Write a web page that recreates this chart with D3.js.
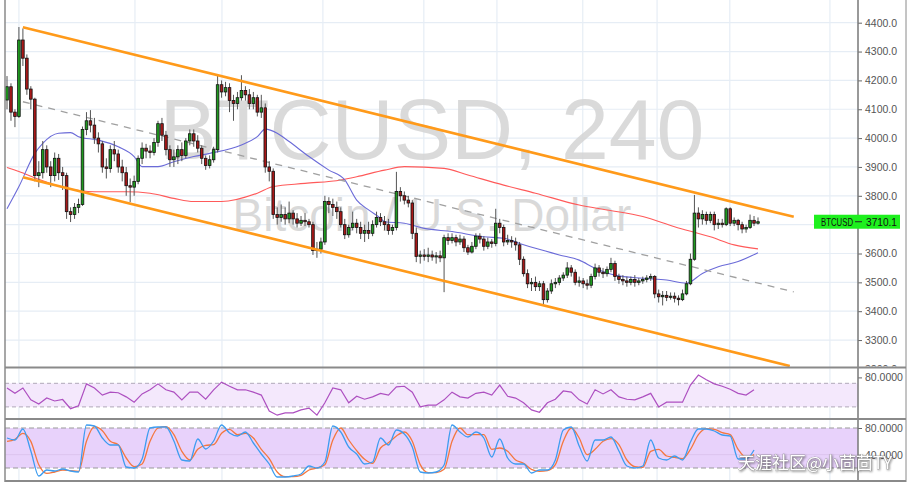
<!DOCTYPE html>
<html><head><meta charset="utf-8">
<script src="https://cdn.jsdelivr.net/npm/d3@7"></script>
<style>body{margin:0;background:#fff;}svg{display:block;font-family:"Liberation Sans",Arial,sans-serif;}</style>
</head><body><svg id="c" width="912" height="482"></svg>
<script>
// ---- data ----
const opens=[4132,4178,4090,4075,4340,4277,4170,4135,3870,3880,
3960,3900,3870,3930,3880,3870,3745,3735,3760,3770,
4030,4060,4045,4000,3980,3900,3895,3960,3945,3900,
3880,3835,3830,3850,3930,3965,3955,3950,3985,4050,
4010,3960,3925,3935,3960,3940,3990,4015,3990,3965,
3930,3905,3925,3960,4185,4160,4175,4130,4120,4140,
4165,4150,4120,4140,4090,4105,3900,3885,3735,3725,
3735,3720,3740,3720,3705,3715,3710,3700,3610,3615,
3640,3780,3770,3760,3745,3700,3665,3690,3705,3690,
3670,3680,3670,3700,3725,3710,3700,3680,3690,3815,
3800,3785,3775,3670,3590,3595,3590,3595,3588,3592,
3585,3655,3645,3655,3640,3650,3620,3605,3625,3660,
3650,3625,3640,3635,3705,3690,3640,3645,3640,3630,
3580,3530,3495,3500,3485,3495,3440,3470,3495,3500,
3515,3525,3550,3535,3500,3505,3495,3490,3520,3550,
3535,3530,3545,3565,3520,3510,3505,3500,3510,3500,
3505,3510,3515,3520,3460,3450,3455,3448,3452,3445,
3440,3460,3495,3580,3740,3720,3735,3715,3735,3700,
3705,3700,3755,3705,3715,3700,3685,3690,3715,3705];
const closes=[4178,4090,4075,4340,4277,4170,4135,3870,3880,3960,
3900,3870,3930,3880,3870,3745,3735,3760,3770,4030,
4060,4045,4000,3980,3900,3895,3960,3945,3900,3880,
3835,3830,3850,3930,3965,3955,3950,3985,4050,4010,
3960,3925,3935,3960,3940,3990,4015,3990,3965,3930,
3905,3925,3960,4185,4160,4175,4130,4120,4140,4165,
4150,4120,4140,4090,4105,3900,3885,3735,3725,3735,
3720,3740,3720,3705,3715,3710,3700,3610,3615,3640,
3780,3770,3760,3745,3700,3665,3690,3705,3690,3670,
3680,3670,3700,3725,3710,3700,3680,3690,3815,3800,
3785,3775,3670,3590,3595,3590,3595,3588,3592,3585,
3655,3645,3655,3640,3650,3620,3605,3625,3660,3650,
3625,3640,3635,3705,3690,3640,3645,3640,3630,3580,
3530,3495,3500,3485,3495,3440,3470,3495,3500,3515,
3525,3550,3535,3500,3505,3495,3490,3520,3550,3535,
3530,3545,3565,3520,3510,3505,3500,3510,3500,3505,
3510,3515,3520,3460,3450,3455,3448,3452,3445,3440,
3460,3495,3580,3740,3720,3735,3715,3735,3700,3705,
3700,3755,3705,3715,3700,3685,3690,3715,3705,3710.1];
const highs=[4215,4190,4100,4385,4380,4290,4180,4140,3920,3990,
3975,3920,3950,3945,3900,3880,3760,3775,3790,4040,
4090,4097,4070,4020,3990,3930,3975,3990,3960,3925,
3900,3860,3870,3940,3985,3980,3975,4000,4060,4070,
4025,3975,3960,3975,3985,4000,4030,4030,4010,3975,
3940,3940,3970,4218,4200,4195,4190,4150,4160,4218,
4180,4170,4160,4150,4150,4120,3920,3895,3760,3770,
3760,3780,3750,3740,3730,3740,3720,3710,3640,3655,
3800,3795,3790,3780,3760,3720,3700,3745,3720,3710,
3700,3710,3715,3745,3740,3730,3720,3700,3883,3830,
3815,3800,3785,3690,3610,3615,3620,3610,3605,3610,
3665,3670,3670,3665,3665,3660,3630,3640,3670,3670,
3660,3655,3650,3755,3720,3700,3665,3660,3655,3640,
3590,3545,3515,3520,3505,3505,3480,3510,3515,3525,
3535,3570,3560,3545,3520,3515,3510,3530,3565,3560,
3550,3555,3585,3575,3530,3525,3520,3520,3525,3515,
3520,3525,3530,3525,3475,3470,3470,3465,3465,3455,
3475,3505,3600,3803,3760,3750,3745,3745,3745,3720,
3720,3760,3760,3725,3720,3710,3700,3735,3730,3725];
const lows=[4100,4060,4038,4070,4250,4150,4100,3850,3830,3860,
3880,3830,3850,3855,3820,3720,3709,3720,3740,3765,
4010,4020,3980,3950,3880,3860,3880,3920,3880,3850,
3800,3778,3800,3840,3910,3930,3930,3940,3970,3990,
3940,3900,3900,3910,3920,3930,3975,3970,3950,3910,
3890,3895,3915,3950,4140,4145,4090,4060,4100,4130,
4130,4100,4100,4075,4070,3880,3850,3720,3700,3710,
3700,3705,3700,3690,3695,3695,3690,3595,3585,3600,
3630,3740,3730,3720,3690,3650,3655,3680,3670,3650,
3640,3650,3660,3690,3695,3680,3665,3665,3680,3780,
3770,3760,3650,3570,3565,3575,3570,3575,3565,3570,
3466,3630,3635,3625,3630,3605,3595,3600,3615,3635,
3610,3615,3620,3625,3670,3625,3630,3620,3610,3560,
3520,3480,3470,3470,3470,3425,3430,3460,3480,3490,
3505,3515,3520,3490,3485,3480,3475,3480,3510,3520,
3515,3520,3535,3505,3495,3490,3485,3490,3485,3490,
3495,3500,3505,3445,3430,3420,3435,3440,3430,3420,
3435,3455,3490,3575,3690,3700,3700,3705,3680,3685,
3690,3695,3695,3695,3680,3670,3672,3685,3695,3700];

// moving averages (bar index, price)
const maFastIdx=[0,3,7,9,13,16,18,23,28,32,34,38,42,47,51,59,63,65,68,71,76,81,85,88,91,94,95,100,105,112,120,125,129,133,139,144,148,153,160,166,171,175,179,184,189];
const maFastVal=[3755,3832,3947,3982,4017,4019,4005,3993,3970,3936,3901,3901,3918,3936,3947,3976,4005,4031,4017,3988,3936,3889,3855,3785,3751,3722,3710,3705,3687,3676,3658,3653,3635,3618,3595,3577,3549,3525,3514,3508,3497,3531,3554,3572,3603];
const maSlowIdx=[0,3,8,15,22,30,36,42,47,54,63,67,75,84,88,95,100,110,116,125,133,144,151,160,168,177,183,189];
const maSlowVal=[3898,3884,3857,3826,3814,3814,3809,3791,3780,3780,3809,3832,3843,3855,3866,3889,3901,3895,3872,3837,3809,3768,3751,3728,3693,3658,3630,3616];

// channel lines: [bar index, price]
const channelUpper=[[4,4384],[198,3727]];
const channelLower=[[4,3864],[197,3210]];
const channelMid=[[4,4126],[198,3467]];

// oscillators, one value every 2 bars
const rsi=[62,53,62,42,35,45,40,42.5,27,32,69,62,50,55,54,47,38,52,59,69,59,55,42,55,55,43,59,72,65,59,59,55,50,23,16,20,20,25,28,16,37,62,59,37,48,43,47,53,50,64,65,55,30,33,33,42,55,47,45,53,55,50,67,48,45,37,25,21,37,43,57,55,42,35,59,52,59,47,43,42,47,53,30,38,38,38,67,84,76,69,65,60,53,50,59];
const stochK=[65,62,78.5,45.5,8,17,15.5,18.5,15.5,14,84.5,83,65,54.5,54.5,21.5,20,33.5,80,81.5,81.5,60.5,32,30.5,63.5,48.5,60.5,84.5,72.5,68,74,57.5,41,26,6.5,6.5,8,11,23,20,29,83,74,51.5,41,26,29,65,54.5,77,71,51.5,14,12.5,14,24.5,84.5,74,66.5,74,65,36.5,63.5,35,26,26,12.5,17,17,32,77,81.5,53,30.5,62,62,66.5,45.5,23,20,23,62,35,32,38,32,59,78.5,78.5,75.5,69.5,68,33.5,33.5,47];
const stochD=[60,63,72,60,25,12,14,17,16,15,60,82,76,60,55,35,22,26,60,80,82,70,45,32,48,54,55,72,78,70,72,65,48,34,14,7,7,9,17,20,25,62,80,62,46,33,27,50,58,68,74,60,25,13,13,18,60,80,70,70,70,48,50,45,32,27,18,15,16,25,60,80,65,40,48,60,64,55,32,22,21,45,48,38,36,34,48,70,79,78,73,70,48,36,40];

const priceTicks=[3200,3300,3400,3500,3600,3700,3800,3900,4000,4100,4200,4300,4400];
const timeTicks=[3,32.2,54.1,79.5,104.9,123.3,144.9,163.6,181.9,207.1];
const rsiBand=[30,70], stochBand=[20,80];
const rsiTicks=[80], stochTicks=[80,40];
const symbol="BTCUSD", lastPrice=3710.1;

// ---- layout ----
const L=5, R=858, mainB=367.5, rsiB=419, botB=481;
const svg=d3.select("#c");
const x=d3.scaleLinear().domain([0,189]).range([7,758]);
const y=d3.scaleLinear().domain([3200,4400]).range([368.9,22.7]);
const yR=d3.scaleLinear().domain([30,70]).range([406.9,383.3]);
const yS=d3.scaleLinear().domain([20,80]).range([468,428]);

const defs=svg.append("defs");
function clip(id,x0,y0,w,h){defs.append("clipPath").attr("id",id).append("rect").attr("x",x0).attr("y",y0).attr("width",w).attr("height",h);}
clip("cm",L,0,R-L,mainB-0.5);
clip("cr",L,mainB+1,R-L,rsiB-mainB-2);
clip("cs",L,rsiB+1,R-L,botB-rsiB-2);
clip("ca",R,0,60,mainB-1);

const gM=svg.append("g").attr("clip-path","url(#cm)");
const gR=svg.append("g").attr("clip-path","url(#cr)");
const gS=svg.append("g").attr("clip-path","url(#cs)");

const gridC="#e6edf5";
[gM,gR,gS].forEach(g=>{
  g.selectAll("line.vg").data(timeTicks).join("line").attr("class","vg")
   .attr("x1",d=>x(d)).attr("x2",d=>x(d)).attr("y1",0).attr("y2",482)
   .attr("stroke",gridC).attr("stroke-width",1.2);
});
gM.selectAll("line.hg").data(priceTicks).join("line").attr("class","hg")
  .attr("x1",L).attr("x2",R).attr("y1",d=>y(d)).attr("y2",d=>y(d))
  .attr("stroke",gridC).attr("stroke-width",1.2);

// watermark
gM.append("text").attr("x",432).attr("y",159).attr("text-anchor","middle")
  .attr("font-size",86).attr("fill","#d3d3d3").attr("fill-opacity",0.85).text(symbol+", 240");
gM.append("text").attr("x",432).attr("y",231).attr("text-anchor","middle")
  .attr("font-size",46).attr("fill","#d3d3d3").attr("fill-opacity",0.85).text("Bitcoin / U.S. Dollar");

// moving averages
const lineIdx=d3.line().x(d=>x(d[0])).y(d=>y(d[1])).curve(d3.curveMonotoneX);
gM.append("path").attr("d",lineIdx(maSlowIdx.map((d,i)=>[d,maSlowVal[i]])))
  .attr("fill","none").attr("stroke","#ff5a5a").attr("stroke-width",1.1);
gM.append("path").attr("d",lineIdx(maFastIdx.map((d,i)=>[d,maFastVal[i]])))
  .attr("fill","none").attr("stroke","#6b6bd8").attr("stroke-width",1.1);

const lin=d3.line().x(d=>x(d[0])).y(d=>y(d[1]));
gM.append("path").attr("d",lin(channelMid)).attr("stroke","#a0a0a0").attr("stroke-width",1.3)
  .attr("stroke-dasharray","7,6").attr("fill","none");

// candles
const idx=d3.range(opens.length);
gM.selectAll("line.wick").data(idx).join("line").attr("class","wick")
  .attr("x1",i=>x(i)).attr("x2",i=>x(i)).attr("y1",i=>y(highs[i])).attr("y2",i=>y(lows[i]))
  .attr("stroke","#555").attr("stroke-width",1);
const bw=2.6;
gM.selectAll("rect.body").data(idx).join("rect").attr("class","body")
  .attr("x",i=>x(i)-bw/2).attr("width",bw)
  .attr("y",i=>y(Math.max(opens[i],closes[i])))
  .attr("height",i=>Math.max(1,Math.abs(y(opens[i])-y(closes[i]))))
  .attr("fill",i=>closes[i]>=opens[i]?"#1f9a1f":"#a81818")
  .attr("stroke","#111").attr("stroke-width",0.8);

[channelUpper,channelLower].forEach(c=>{
  gM.append("path").attr("d",lin(c)).attr("stroke","#ff9a1a").attr("stroke-width",2.6).attr("fill","none");
});

// RSI panel
gR.append("rect").attr("x",L).attr("width",R-L).attr("y",yR(rsiBand[1])).attr("height",yR(rsiBand[0])-yR(rsiBand[1])).attr("fill","#f4e8fc");
rsiBand.forEach(v=>gR.append("line").attr("x1",L).attr("x2",R).attr("y1",yR(v)).attr("y2",yR(v)).attr("stroke","#b0a8b8").attr("stroke-dasharray","4,3"));
const lineR=d3.line().x((d,k)=>x(2*k)).y(d=>yR(d));
gR.append("path").attr("d",lineR(rsi)).attr("fill","none").attr("stroke","#ad4fc0").attr("stroke-width",1.2);

// Stoch panel
gS.append("rect").attr("x",L).attr("width",R-L).attr("y",yS(stochBand[1])).attr("height",yS(stochBand[0])-yS(stochBand[1])).attr("fill","#e8d2fb");
gS.append("line").attr("x1",L).attr("x2",R).attr("y1",yS(40)).attr("y2",yS(40)).attr("stroke","#dcc4ee");
stochBand.forEach(v=>gS.append("line").attr("x1",L).attr("x2",R).attr("y1",yS(v)).attr("y2",yS(v)).attr("stroke","#999").attr("stroke-dasharray","5,3"));
const lineS=d3.line().x((d,k)=>x(2*k)).y(d=>yS(d)).curve(d3.curveMonotoneX);
gS.append("path").attr("d",lineS(stochD)).attr("fill","none").attr("stroke","#f4773f").attr("stroke-width",1.3);
gS.append("path").attr("d",lineS(stochK)).attr("fill","none").attr("stroke","#3d9cf0").attr("stroke-width",1.3);

// axes (the label hidden behind the last-price box is not drawn)
const ly=y(lastPrice);
const visTicks=priceTicks.filter(v=>Math.abs(y(v)-ly)>9);
const axG=svg.append("g").attr("clip-path","url(#ca)").append("g").attr("transform",`translate(${R},0)`)
  .call(d3.axisRight(y).tickValues(visTicks).tickFormat(d3.format(".1f")).tickSize(4).tickPadding(3));
const axR=svg.append("g").attr("transform",`translate(${R},0)`)
  .call(d3.axisRight(yR).tickValues(rsiTicks).tickFormat(d3.format(".4f")).tickSize(4).tickPadding(3));
const axS=svg.append("g").attr("transform",`translate(${R},0)`)
  .call(d3.axisRight(yS).tickValues(stochTicks).tickFormat(d3.format(".4f")).tickSize(4).tickPadding(3));
[axG,axR,axS].forEach(a=>{
  a.select(".domain").remove();
  a.selectAll("text").attr("font-size",10.5).attr("fill","#555").attr("font-family","Liberation Sans, Arial, sans-serif");
  a.selectAll("line").attr("stroke","#666");
});

// frame
const fr=svg.append("g").attr("stroke","#8a8a8a");
fr.append("line").attr("x1",L).attr("x2",L).attr("y1",0).attr("y2",482).attr("stroke-width",1.5);
fr.append("line").attr("x1",R).attr("x2",R).attr("y1",0).attr("y2",482).attr("stroke-width",1.5).attr("stroke","#777");
fr.append("line").attr("x1",906).attr("x2",906).attr("y1",0).attr("y2",482).attr("stroke-width",1);
[mainB,rsiB,botB].forEach(v=>fr.append("line").attr("x1",L).attr("x2",906).attr("y1",v).attr("y2",v).attr("stroke-width",2));

// last price label
svg.append("rect").attr("x",814).attr("y",ly-7).attr("width",86).attr("height",14).attr("fill","#1ef01e");
svg.append("line").attr("x1",R-3).attr("x2",R+4).attr("y1",ly).attr("y2",ly).attr("stroke","#222");
svg.append("text").attr("x",821).attr("y",ly+3.8).attr("font-size",10.5).attr("fill","#111")
  .attr("textLength",32).attr("lengthAdjust","spacingAndGlyphs").text(symbol);
svg.append("text").attr("x",866).attr("y",ly+3.8).attr("font-size",10.5).attr("fill","#111")
  .attr("textLength",31).attr("lengthAdjust","spacingAndGlyphs").text(d3.format(".1f")(lastPrice));

// site watermark
svg.append("text").attr("x",738).attr("y",469).attr("font-size",17)
  .attr("font-family","Noto Sans CJK SC, sans-serif").attr("fill","#fff")
  .attr("stroke","#888").attr("stroke-width",0.6).attr("paint-order","stroke")
  .style("filter","drop-shadow(1px 1px 1px rgba(0,0,0,0.45))")
  .text("天涯社区@小茴茴TY");
</script></body></html>
